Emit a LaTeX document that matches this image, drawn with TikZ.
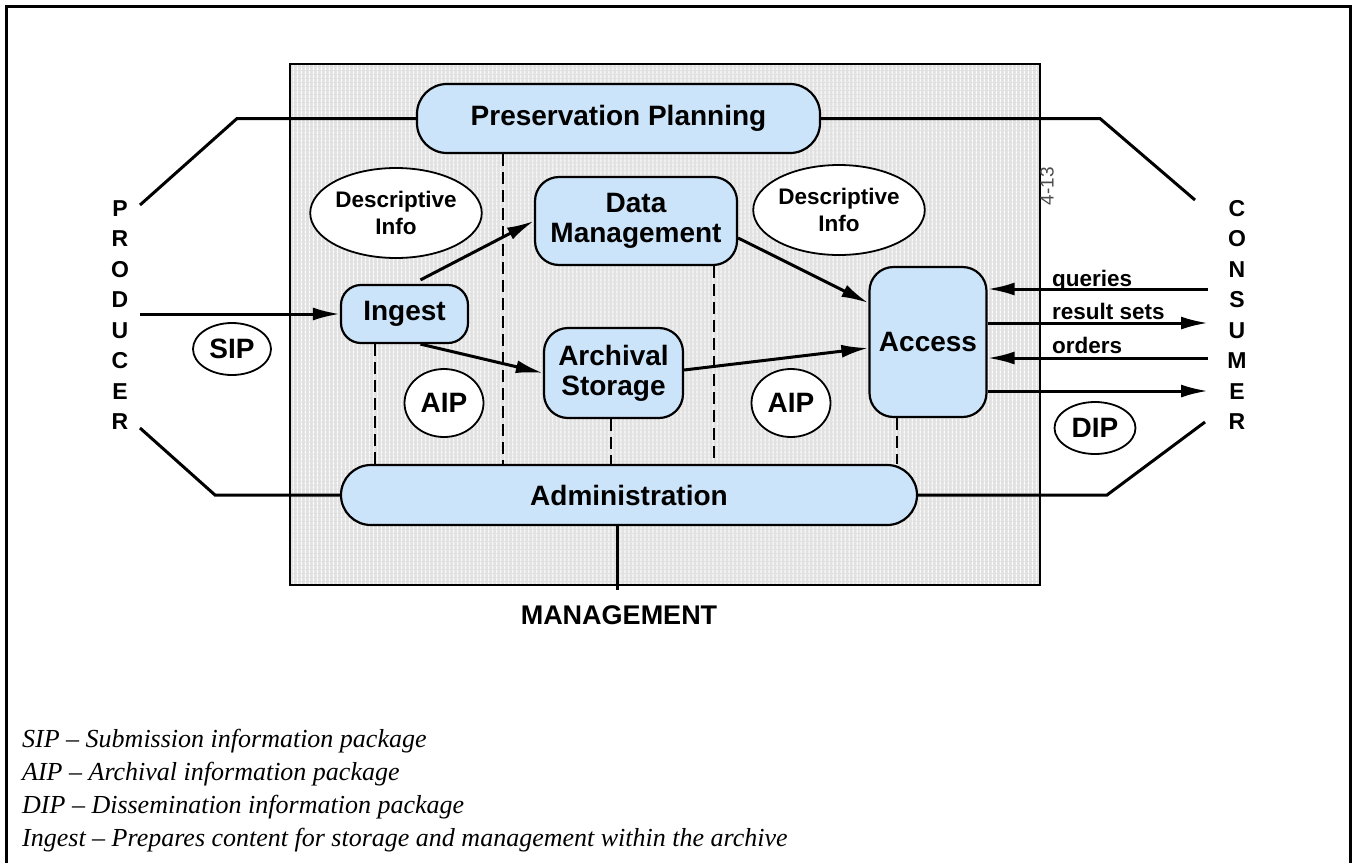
\documentclass[tikz,border=0pt]{standalone}
\usepackage{fontspec}
\setmainfont{Liberation Sans}
\newfontfamily\legendfont{Liberation Serif}
\usetikzlibrary{arrows.meta,shapes.geometric,patterns.meta}
\definecolor{boxblue}{RGB}{204,228,250}
\definecolor{archivegray}{RGB}{225,225,225}
\begin{document}
\begin{tikzpicture}[x=1pt,y=-1pt,
  box/.style={draw,line width=2.2pt,fill=boxblue,rectangle,rounded corners=#1,
    align=center,inner sep=0pt,font=\bfseries\fontsize{28}{30}\selectfont},
  box/.default=24pt,
  bubble/.style={draw,ellipse,line width=1.8pt,fill=white,inner sep=0pt,align=center,
    font=\bfseries\fontsize{28}{30}\selectfont},
  infobubble/.style={bubble,font=\bfseries\fontsize{22.5}{27}\selectfont},
  link/.style={line width=3pt},
  flow/.style={line width=3pt,-{Latex[length=27pt,width=13pt]}},
  tie/.style={line width=2.8pt,dash pattern=on 12pt off 6pt},
  flowlabel/.style={anchor=base west,inner sep=0pt,font=\bfseries\fontsize{22.5}{25}\selectfont},
  letters/.style={align=center,inner sep=0pt,font=\bfseries\fontsize{23}{30.5}\selectfont},
  legend/.style={anchor=base west,inner sep=0pt,font=\legendfont\itshape\fontsize{26}{33}\selectfont},
]
\useasboundingbox (0,0) rectangle (1357,863);

% page frame
\draw[line width=3pt] (6,863) -- (6,6) -- (1350,6) -- (1350,863);

% archive boundary, with a light striped texture
\fill[archivegray] (290,64) rectangle (1040,585);
\fill[pattern={Lines[angle=90,distance=4pt,line width=1pt]},pattern color=white] (290,64) rectangle (1040,585);
\draw[line width=2.2pt] (290,64) rectangle (1040,585);

% functional entities
\node[box=30pt,minimum width=403pt,minimum height=69pt] (pp) at (618.5,118.5) {Preservation Planning};
\node[box=24pt,minimum width=202pt,minimum height=88pt] (dm) at (636,221) {Data\\Management};
\node[box=20pt,minimum width=127pt,minimum height=58pt] (ingest) at (404.5,314) {Ingest};
\node[box=24pt,minimum width=139pt,minimum height=90pt] (as) at (613.5,373) {Archival\\Storage};
\node[box=24pt,minimum width=117pt,minimum height=150pt] (access) at (928,342) {Access};
\node[box=30pt,minimum width=576pt,minimum height=60pt] (admin) at (629,495) {Administration};

% information packages
\node[infobubble,minimum width=162pt,minimum height=90pt] (di1) at (396,213) {Descriptive\\Info};
\node[infobubble,minimum width=158pt,minimum height=90pt] (di2) at (839,210) {Descriptive\\Info};
\node[bubble,minimum width=78pt,minimum height=52pt] (sip) at (232,349) {SIP};
\node[bubble,minimum width=79pt,minimum height=68pt] (aip1) at (444,403) {AIP};
\node[bubble,minimum width=79pt,minimum height=68pt] (aip2) at (791,403) {AIP};
\node[bubble,minimum width=81pt,minimum height=52pt] (dip) at (1095,428) {DIP};

% external parties
\node[letters] (producer) at (120,315) {P\\R\\O\\D\\U\\C\\E\\R};
\node[letters] (consumer) at (1237,315) {C\\O\\N\\S\\U\\M\\E\\R};
\node[inner sep=0pt,font=\bfseries\fontsize{27}{30}\selectfont] (mgmt) at (619,615) {MANAGEMENT};
\node[rotate=90,inner sep=0pt,text=black!70,font=\fontsize{19}{19}\selectfont] (figno) at (1047,186) {4-13};

% producer / consumer boundary lines
\coordinate (pl1) at (140,205);
\coordinate (pl2) at (237,0);
\coordinate (pr1) at (1195,200);
\coordinate (pr2) at (1100,0);
\coordinate (bl1) at (140,428);
\coordinate (bl2) at (215,0);
\coordinate (br1) at (1205,422);
\coordinate (br2) at (1107,0);
\draw[link] (pl1) -- (pp.west -| pl2) -- (pp.west);
\draw[link] (pp.east) -- (pp.east -| pr2) -- (pr1);
\draw[link] (bl1) -- (admin.west -| bl2) -- (admin.west);
\draw[link] (admin.east) -- (admin.east -| br2) -- (br1);

% management link
\coordinate (mgtop) at (617,590);
\draw[link] (admin.south -| mgtop) -- (mgtop);

% data flows
\coordinate (pin) at (140,0);
\draw[flow] (ingest.west -| pin) -- (ingest.west);
\draw[flow] ([xshift=16pt,yshift=4pt]ingest.north) -- (dm.west);
\draw[flow] ([xshift=16pt]ingest.south) -- (as.west);
\draw[flow] ([yshift=-17pt]dm.east) -- ([yshift=39pt]access.west);
\draw[flow] ([yshift=3pt]as.east) -- ([yshift=-6pt]access.west);

\coordinate (cq) at (1208,289);
\coordinate (cr) at (1208,323);
\coordinate (co) at (1208,358);
\coordinate (cd) at (1208,391);
\draw[flow] (cq) -- (cq -| access.east);
\draw[flow] (cr -| access.east) -- (cr);
\draw[flow] (co) -- (co -| access.east);
\draw[flow] (cd -| access.east) -- (cd);
\node[flowlabel] (lq) at (1052,286) {queries};
\node[flowlabel] (lr) at (1052,319) {result sets};
\node[flowlabel] (lo) at (1052,353) {orders};

% administration ties
\coordinate (v1) at (375,0);
\coordinate (v2) at (503,0);
\coordinate (v3) at (611,0);
\coordinate (v4) at (714,0);
\coordinate (v5) at (897,0);
\draw[tie] (ingest.south -| v1) -- (admin.north -| v1);
\draw[tie] (pp.south -| v2) -- (admin.north -| v2);
\draw[tie] (as.south -| v3) -- (admin.north -| v3);
\draw[tie] (dm.south -| v4) -- (admin.north -| v4);
\draw[tie] (access.south -| v5) -- (admin.north -| v5);

% glossary
\node[legend] (lg1) at (22,747) {SIP – Submission information package};
\node[legend] (lg2) at (22,780) {AIP – Archival information package};
\node[legend] (lg3) at (22,813) {DIP – Dissemination information package};
\node[legend] (lg4) at (22,846) {Ingest – Prepares content for storage and management within the archive};
\end{tikzpicture}
\end{document}
